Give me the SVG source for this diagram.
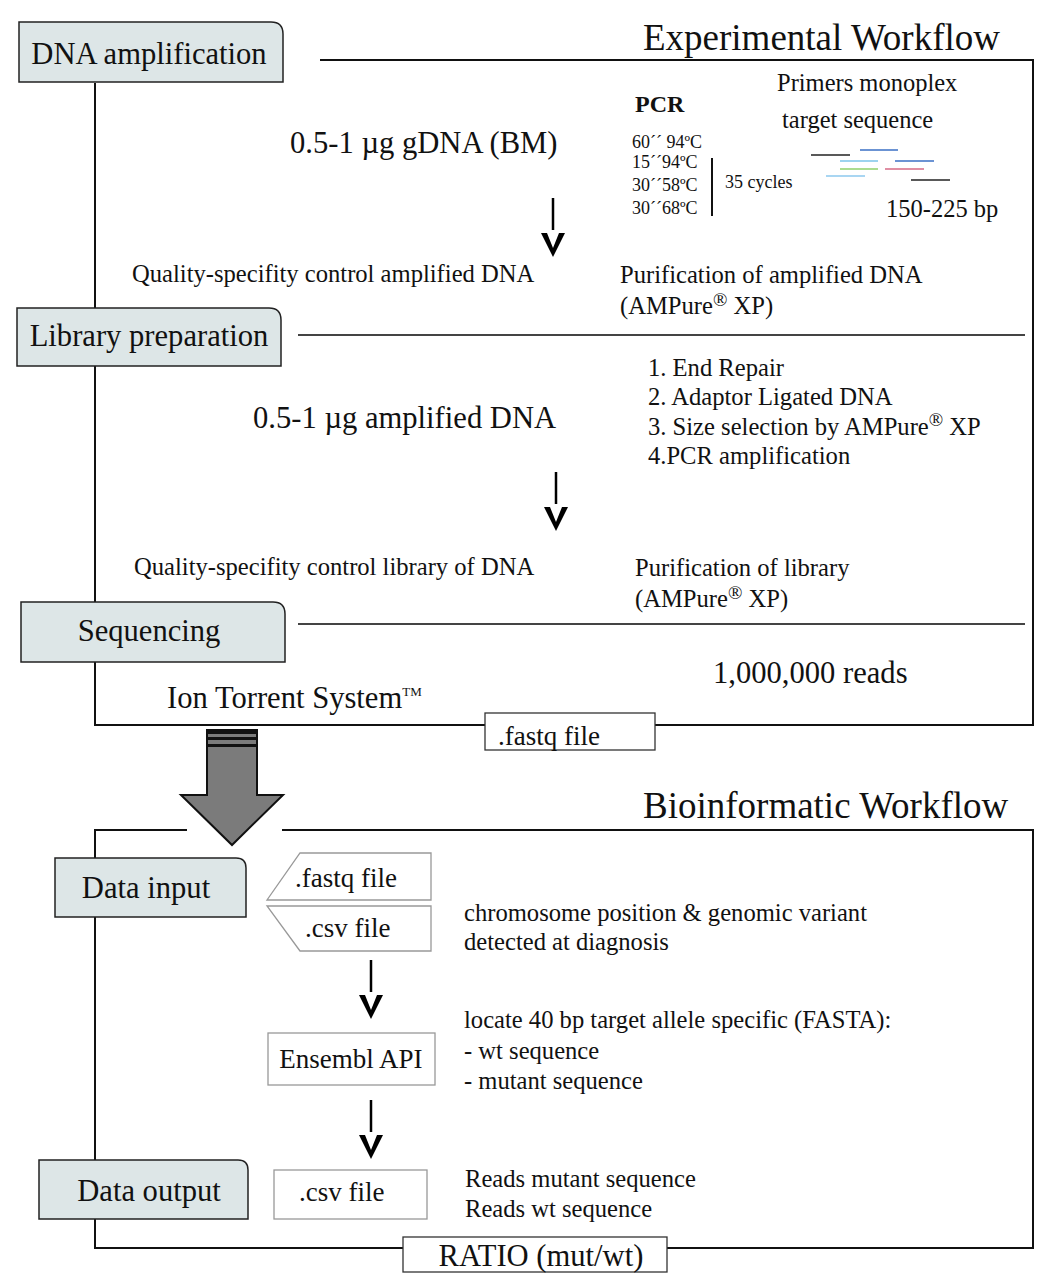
<svg xmlns="http://www.w3.org/2000/svg" width="1048" height="1280" viewBox="0 0 1048 1280">
<style>
text{font-family:"Liberation Serif","Times New Roman",serif;fill:#111}
.stage{fill:#dde6e7;stroke:#222;stroke-width:1.5}
.frame{fill:none;stroke:#111;stroke-width:2}
.sep{fill:none;stroke:#444;stroke-width:2}
.fbox{fill:#fff;stroke:#333;stroke-width:1.3}
.gbox{fill:#fff;stroke:#999;stroke-width:1.3}
.arr{fill:none;stroke:#000;stroke-width:2.5}
.chev{fill:#000;stroke:none}
.t20{font-size:24.6px}
.t24{font-size:27px}
.t30{font-size:30.6px}
.t34{font-size:37px}
.sup{font-size:19px}
</style>
<rect width="1048" height="1280" fill="#fff"/>

<g id="connectors">
<!-- experimental frame -->
<polyline class="frame" points="95,83 95,725 485,725"/>
<polyline class="frame" points="655,725 1033,725 1033,60 320,60"/>
<line class="sep" x1="298" y1="335" x2="1025" y2="335"/>
<line class="sep" x1="298" y1="624" x2="1025" y2="624"/>
<!-- bioinformatic frame -->
<polyline class="frame" points="187,830 95,830 95,1248 403,1248"/>
<polyline class="frame" points="282,830 1033,830 1033,1248 667,1248"/>
<!-- small arrows -->
<g id="arrow1"><line class="arr" x1="553" y1="198" x2="553" y2="230"/><polygon class="chev" points="541,233 547,233 553,248 559,233 565,233 553,257"/></g>
<g id="arrow2"><line class="arr" x1="556" y1="472" x2="556" y2="504"/><polygon class="chev" points="544,507 550,507 556,522 562,507 568,507 556,531"/></g>
<g id="arrow3"><line class="arr" x1="371" y1="960" x2="371" y2="992"/><polygon class="chev" points="359,995 365,995 371,1010 377,995 383,995 371,1019"/></g>
<g id="arrow4"><line class="arr" x1="371" y1="1100" x2="371" y2="1132"/><polygon class="chev" points="359,1135 365,1135 371,1150 377,1135 383,1135 371,1159"/></g>
<!-- big arrow -->
<g id="bigArrow">
<polygon points="207,730 257,730 257,795 283,795 232,845 181,795 207,795" fill="#7b7b7b" stroke="#111" stroke-width="2"/>
<rect x="207" y="730" width="50" height="4" fill="#111"/>
<rect x="207" y="737" width="50" height="3" fill="#111"/>
<rect x="207" y="744" width="50" height="3" fill="#111"/>
</g>
</g>

<g id="title-exp"><text class="t34" x="643" y="50">Experimental Workflow</text></g>
<g id="title-bio"><text class="t34" x="643" y="818">Bioinformatic Workflow</text></g>

<g id="stage-dna-amplification">
<path class="stage" d="M19,22 H271 Q283,22 283,34 V82 H19 Z"/>
<text class="t30" x="149" y="64" text-anchor="middle">DNA amplification</text>
</g>
<g id="stage-library">
<path class="stage" d="M17,308 H269 Q281,308 281,320 V366 H17 Z"/>
<text class="t30" x="149" y="346" text-anchor="middle">Library preparation</text>
</g>
<g id="stage-sequencing">
<path class="stage" d="M21,602 H273 Q285,602 285,614 V662 H21 Z"/>
<text class="t30" x="149" y="641" text-anchor="middle">Sequencing</text>
</g>
<g id="stage-data-input">
<path class="stage" d="M55,858 H236 Q246,858 246,868 V917 H55 Z"/>
<text class="t30" x="146" y="898" text-anchor="middle">Data input</text>
</g>
<g id="stage-data-output">
<path class="stage" d="M39,1160 H238 Q248,1160 248,1170 V1219 H39 Z"/>
<text class="t30" x="149" y="1201" text-anchor="middle">Data output</text>
</g>

<g id="dna-amp-content">
<text class="t30" x="290" y="153">0.5-1 µg gDNA (BM)</text>
<text x="635" y="112" font-size="24" font-weight="bold">PCR</text>
<text x="632" y="148" font-size="18">60´´ 94ºC</text>
<text x="632" y="168" font-size="18">15´´94ºC</text>
<text x="632" y="191" font-size="18">30´´58ºC</text>
<text x="632" y="214" font-size="18">30´´68ºC</text>
<line x1="712" y1="158" x2="712" y2="216" stroke="#111" stroke-width="2"/>
<text x="725" y="188" font-size="18">35 cycles</text>
<text x="777" y="91" font-size="24.5">Primers monoplex</text>
<text x="782" y="128" font-size="24.5">target sequence</text>
<g stroke-width="1.5">
<line x1="811" y1="155" x2="850" y2="155" stroke="#222"/>
<line x1="860" y1="150" x2="898" y2="150" stroke="#3a6fc4"/>
<line x1="840" y1="161" x2="878" y2="161" stroke="#7cc4e8"/>
<line x1="895" y1="161" x2="934" y2="161" stroke="#3a6fc4"/>
<line x1="840" y1="169" x2="878" y2="169" stroke="#8fd16a"/>
<line x1="885" y1="169" x2="924" y2="169" stroke="#d66a86"/>
<line x1="826" y1="176" x2="865" y2="176" stroke="#8cc8ee"/>
<line x1="911" y1="180" x2="950" y2="180" stroke="#222"/>
</g>
<text x="886" y="217" font-size="24.5">150-225 bp</text>
<text class="t20" x="132" y="282">Quality-specifity control amplified DNA</text>
<text class="t20" x="620" y="283">Purification of amplified DNA</text>
<text class="t20" x="620" y="314">(AMPure<tspan class="sup" dy="-8">®</tspan><tspan dy="8"> XP)</tspan></text>
</g>

<g id="library-content">
<text class="t30" x="253" y="428">0.5-1 µg amplified DNA</text>
<text class="t20" x="648" y="376">1. End Repair</text>
<text class="t20" x="648" y="405">2. Adaptor Ligated DNA</text>
<text class="t20" x="648" y="435">3. Size selection by AMPure<tspan class="sup" dy="-9">®</tspan><tspan dy="9"> XP</tspan></text>
<text class="t20" x="648" y="464">4.PCR amplification</text>
<text class="t20" x="134" y="575">Quality-specifity control library of DNA</text>
<text class="t20" x="635" y="576">Purification of library</text>
<text class="t20" x="635" y="607">(AMPure<tspan class="sup" dy="-8">®</tspan><tspan dy="8"> XP)</tspan></text>
</g>

<g id="sequencing-content">
<text class="t30" x="713" y="683">1,000,000 reads</text>
<text class="t30" x="167" y="708">Ion Torrent System<tspan font-size="13" dy="-12">TM</tspan></text>
</g>

<g id="fastq-output">
<rect class="fbox" x="485" y="713" width="170" height="37"/>
<text class="t24" x="549" y="745" text-anchor="middle">.fastq file</text>
</g>

<g id="input-fastq">
<polygon class="gbox" points="300,853 431,853 431,900 267,900"/>
<text class="t24" x="295" y="887">.fastq file</text>
</g>
<g id="input-csv">
<polygon class="gbox" points="267,906 431,906 431,951 300,951"/>
<text class="t24" x="305" y="937">.csv file</text>
</g>
<g id="input-notes">
<text class="t20" x="464" y="921">chromosome position &amp; genomic variant</text>
<text class="t20" x="464" y="950">detected at diagnosis</text>
</g>

<g id="ensembl">
<rect class="gbox" x="268" y="1033" width="167" height="52"/>
<text class="t24" x="351" y="1068" text-anchor="middle">Ensembl API</text>
</g>
<g id="ensembl-notes">
<text class="t20" x="464" y="1028">locate 40 bp target allele specific (FASTA):</text>
<text class="t20" x="464" y="1059">- wt sequence</text>
<text class="t20" x="464" y="1089">- mutant sequence</text>
</g>

<g id="output-csv">
<rect class="gbox" x="274" y="1170" width="153" height="49"/>
<text class="t24" x="299" y="1201">.csv file</text>
</g>
<g id="output-notes">
<text class="t20" x="465" y="1187">Reads mutant sequence</text>
<text class="t20" x="465" y="1217">Reads wt sequence</text>
</g>

<g id="ratio">
<rect class="fbox" x="403" y="1237" width="264" height="35"/>
<text class="t30" x="541" y="1266" text-anchor="middle">RATIO (mut/wt)</text>
</g>
</svg>
